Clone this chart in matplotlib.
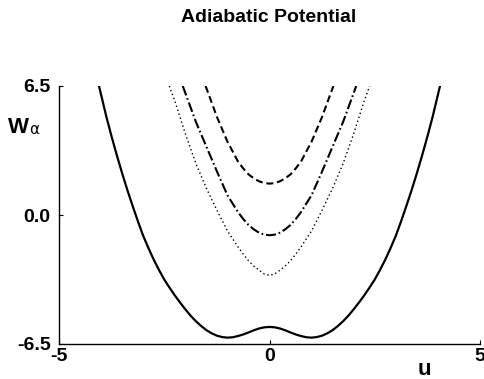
import matplotlib
matplotlib.use("Agg")
import matplotlib.pyplot as plt

# ---- data ----
u_solid = [-4.05, -3.875, -3.75, -3.625, -3.5, -3.375, -3.25, -3.125, -3.0, -2.875, -2.75,
           -2.625, -2.5, -2.375, -2.25, -2.125, -2.0, -1.875, -1.75, -1.625, -1.5, -1.375,
           -1.25, -1.125, -1.0, -0.875, -0.75, -0.625, -0.5, -0.375, -0.25, -0.125, 0.0,
           0.125, 0.25, 0.375, 0.5, 0.625, 0.75, 0.875, 1.0, 1.125, 1.25, 1.375, 1.5,
           1.625, 1.75, 1.875, 2.0, 2.125, 2.25, 2.375, 2.5, 2.625, 2.75, 2.875, 3.0,
           3.125, 3.25, 3.375, 3.5, 3.625, 3.75, 3.875, 4.05]
w_solid = [6.5, 4.95, 3.95, 3.00, 2.10, 1.25, 0.45, -0.32, -1.05, -1.67, -2.25,
           -2.77, -3.25, -3.66, -4.05, -4.41, -4.75, -5.07, -5.35, -5.59, -5.80, -5.96,
           -6.08, -6.15, -6.18, -6.16, -6.10, -6.02, -5.92, -5.81, -5.72, -5.66, -5.64,
           -5.66, -5.72, -5.81, -5.92, -6.02, -6.10, -6.16, -6.18, -6.15, -6.08, -5.96, -5.80,
           -5.59, -5.35, -5.07, -4.75, -4.41, -4.05, -3.66, -3.25, -2.77, -2.25, -1.67, -1.05,
           -0.32, 0.45, 1.25, 2.10, 3.00, 3.95, 4.95, 6.5]

u_dotted = [-2.38, -2.25, -2.0, -1.75, -1.5, -1.25, -1.0, -0.75, -0.625, -0.5, -0.375,
            -0.25, -0.125, 0.0, 0.125, 0.25, 0.375, 0.5, 0.625, 0.75, 1.0, 1.25, 1.5,
            1.75, 2.0, 2.25, 2.38]
w_dotted = [6.5, 5.75, 4.10, 2.60, 1.35, 0.25, -0.80, -1.60, -1.97, -2.30, -2.57,
            -2.78, -2.97, -3.04, -2.97, -2.78, -2.57, -2.30, -1.97, -1.60, -0.80, 0.25, 1.35,
            2.60, 4.10, 5.75, 6.5]

u_dashdot = [-2.06, -2.0, -1.75, -1.5, -1.25, -1.0, -0.75, -0.625, -0.5, -0.375, -0.25,
             -0.125, 0.0, 0.125, 0.25, 0.375, 0.5, 0.625, 0.75, 1.0, 1.25, 1.5, 1.75,
             2.0, 2.06]
w_dashdot = [6.5, 6.15, 4.70, 3.45, 2.20, 1.00, 0.15, -0.20, -0.50, -0.72, -0.89,
             -0.99, -1.02, -0.99, -0.89, -0.72, -0.50, -0.20, 0.15, 1.00, 2.20, 3.45, 4.70,
             6.15, 6.5]

u_dashed = [-1.52, -1.5, -1.25, -1.0, -0.75, -0.625, -0.5, -0.375, -0.25, -0.125, 0.0,
            0.125, 0.25, 0.375, 0.5, 0.625, 0.75, 1.0, 1.25, 1.5, 1.52]
w_dashed = [6.5, 6.40, 4.95, 3.70, 2.70, 2.35, 2.05, 1.85, 1.70, 1.61, 1.58,
            1.61, 1.70, 1.85, 2.05, 2.35, 2.70, 3.70, 4.95, 6.40, 6.5]

x_ticks = [-5, 0, 5]
x_ticklabels = ["-5", "0", "5"]
y_ticks = [-6.5, 0.0, 6.5]
y_ticklabels = ["-6.5", "0.0", "6.5"]

title = "Adiabatic Potential"

# ---- figure ----
W_PX, H_PX = 484, 379
fig = plt.figure(figsize=(W_PX / 100, H_PX / 100), dpi=100)
font = "Liberation Sans"

ax = fig.add_axes([59 / W_PX, (H_PX - 344) / H_PX, (480 - 59) / W_PX, (344 - 86) / H_PX])

ax.plot(u_solid, w_solid, color="black", lw=1.6, solid_joinstyle="round")
ax.plot(u_dotted, w_dotted, color="black", lw=1.0, linestyle=(0, (1.0, 2.0)))
ax.plot(u_dashdot, w_dashdot, color="black", lw=1.5, linestyle=(0, (4.8, 1.4, 0.8, 1.4)))
ax.plot(u_dashed, w_dashed, color="black", lw=1.5, linestyle=(0, (3.4, 1.8)))

ax.set_xlim(-5, 5)
ax.set_ylim(-6.5, 6.5)

for s in ["top", "right"]:
    ax.spines[s].set_visible(False)
for s in ["left", "bottom"]:
    ax.spines[s].set_linewidth(1.0)

ax.set_xticks(x_ticks)
ax.set_xticklabels(x_ticklabels, fontfamily=font, fontweight="bold", fontsize=14)
ax.set_yticks(y_ticks)
ax.set_yticklabels(y_ticklabels, fontfamily=font, fontweight="bold", fontsize=14)
ax.tick_params(axis="both", direction="in", length=3, width=0.8)
ax.tick_params(axis="x", pad=3)
ax.tick_params(axis="y", pad=6)

fig.text(269 / W_PX, (H_PX - 18) / H_PX, title, ha="center", va="center",
         fontfamily=font, fontweight="bold", fontsize=14)

fig.text(8 / W_PX, (H_PX - 133) / H_PX, "W", ha="left", va="baseline",
         fontfamily=font, fontweight="bold", fontsize=16)
fig.text(29.5 / W_PX, (H_PX - 134) / H_PX, "α", ha="left", va="baseline",
         fontfamily=["DejaVu Sans"], fontsize=11)

fig.text(424 / W_PX, (H_PX - 375) / H_PX, "u", ha="center", va="baseline",
         fontfamily=font, fontweight="bold", fontsize=16)

fig.savefig("out.png", dpi=100)
